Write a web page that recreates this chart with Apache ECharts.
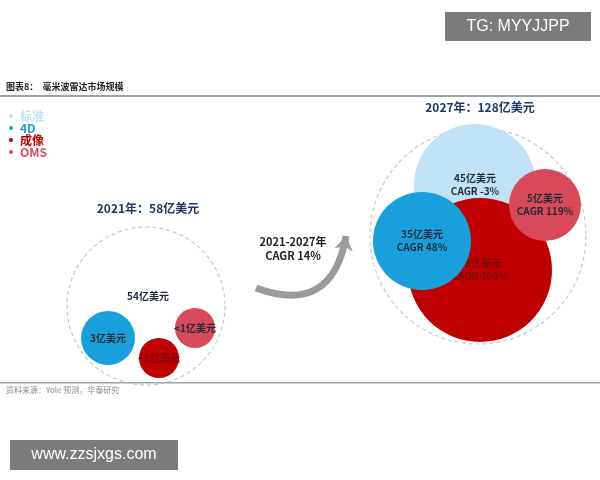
<!DOCTYPE html>
<html lang="zh">
<head>
<meta charset="UTF-8">
<style>
    html, body { margin: 0; padding: 0; background: #fff; }
    #chart { width: 600px; height: 480px; }
</style>
<script src="https://cdn.jsdelivr.net/npm/echarts@6/dist/echarts.min.js"></script>
</head>
<body>
<div id="chart"></div>
<script>
    // 细分市场
    const segments = ['标准', '4D', '成像', 'OMS'];
    const segColors = ['#bfe3f4', '#17a0db', '#c00000', '#d84a5a'];
    const legendTextColors = ['#bfe3f4', '#17a0db', '#c00000', '#d84a5a'];
    // 气泡：[x, y, 直径, 标签]
    const bubbles2021 = [
        [148, 296, 0, '54亿美元'],
        [108, 338, 54, '3亿美元'],
        [159, 358, 40, '<1亿美元'],
        [195, 328, 40, '<1亿美元']
    ];
    const bubbles2027 = [
        [475, 185, 122, '45亿美元\nCAGR -3%'],
        [422, 241, 98, '35亿美元\nCAGR 48%'],
        [480, 270, 144, '43亿美元\nCAGR 109%'],
        [545, 205, 72, '5亿美元\nCAGR 119%']
    ];
    const totals = [[146, 306, 158], [478, 236, 216]];
    const titles = ['2021年：58亿美元', '2027年：128亿美元'];

    const chart = echarts.init(document.getElementById('chart'));
    const font = '"Noto Sans CJK SC", "Liberation Sans", sans-serif';

    const series = [{
        type: 'scatter', name: 'total', silent: true, z: 1,
        data: totals.map(t => ({ value: [t[0], t[1]], symbolSize: t[2] })),
        itemStyle: { color: 'rgba(0,0,0,0)', borderColor: '#bbb', borderWidth: 1.2, borderType: [4, 3] }
    }];
    // 绘制顺序：标准、成像、4D、OMS
    [0, 2, 1, 3].forEach((i, k) => {
        const b1 = bubbles2021[i], b2 = bubbles2027[i];
        series.push({
            type: 'scatter', name: segments[i], z: 2 + k,
            itemStyle: { color: segColors[i], opacity: 1 },
            label: {
                show: true, position: 'inside', formatter: p => p.data.name,
                fontFamily: font, fontWeight: 'bold', fontSize: 10, lineHeight: 13,
                color: i === 2 ? '#7a0a10' : '#1e2a3a'
            },
            data: [
                { value: [b1[0], b1[1]], symbolSize: b1[2], name: b1[3] },
                { value: [b2[0], b2[1]], symbolSize: b2[2], name: b2[3] }
            ]
        });
    });
    // 2021-2027 弧形箭头
    series.push({
        type: 'lines', coordinateSystem: 'cartesian2d', silent: true, z: 1,
        data: [{ coords: [[256, 288], [346, 236]] }],
        lineStyle: { color: '#9a9a9a', width: 7, curveness: -0.6, opacity: 1 },
        symbol: ['none', 'arrow'], symbolSize: 14
    });

    chart.setOption({
        animation: false,
        grid: { left: 0, right: 0, top: 0, bottom: 0 },
        xAxis: { type: 'value', min: 0, max: 600, show: false },
        yAxis: { type: 'value', min: 0, max: 480, inverse: true, show: false },
        legend: {
            orient: 'vertical', left: 4, top: 105, itemGap: 0, itemWidth: 8, itemHeight: 4,
            icon: 'circle', selectedMode: false,
            data: segments.map((s, i) => ({ name: s, textStyle: { color: legendTextColors[i] } })),
            textStyle: { fontFamily: font, fontSize: 12, fontWeight: 'bold' }
        },
        graphic: [
            { type: 'text', left: 6, top: 82, style: { text: '图表8：  毫米波雷达市场规模', font: 'bold 9px ' + font, fill: '#222' } },
            { type: 'rect', shape: { x: 0, y: 95, width: 600, height: 2 }, style: { fill: '#9aa3a8' } },
            { type: 'rect', shape: { x: 0, y: 382, width: 600, height: 1.5 }, style: { fill: '#9aa3a8' } },
            { type: 'text', left: 6, top: 386, style: { text: '资料来源：Yole 预测，华泰研究', font: '8px ' + font, fill: '#888' } },
            { type: 'text', x: 148, y: 208, style: { text: titles[0], font: 'bold 12px ' + font, fill: '#1f3864', align: 'center', verticalAlign: 'middle' } },
            { type: 'text', x: 480, y: 107, style: { text: titles[1], font: 'bold 12px ' + font, fill: '#1f3864', align: 'center', verticalAlign: 'middle' } },
            { type: 'text', x: 293, y: 249, style: { text: '2021-2027年\nCAGR 14%', font: 'bold 11px ' + font, fill: '#222', align: 'center', verticalAlign: 'middle', lineHeight: 14 } },
            { type: 'rect', shape: { x: 445, y: 12, width: 146, height: 29 }, style: { fill: 'rgba(90,90,90,0.8)' } },
            { type: 'text', x: 518, y: 27, style: { text: 'TG: MYYJJPP', font: '16px "Liberation Sans", sans-serif', fill: '#fff', align: 'center', verticalAlign: 'middle' } },
            { type: 'rect', shape: { x: 10, y: 440, width: 168, height: 30 }, style: { fill: 'rgba(90,90,90,0.8)' } },
            { type: 'text', x: 94, y: 455, style: { text: 'www.zzsjxgs.com', font: '16px "Liberation Sans", sans-serif', fill: '#fff', align: 'center', verticalAlign: 'middle' } }
        ],
        series: series
    });
</script>
</body>
</html>
